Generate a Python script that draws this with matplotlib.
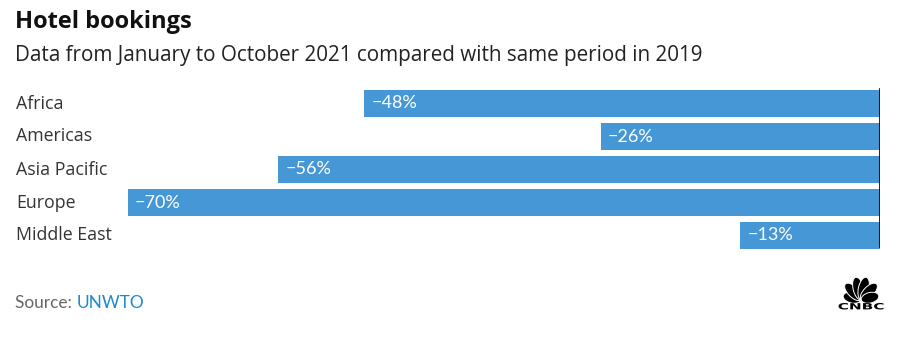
import matplotlib
matplotlib.use("Agg")
import matplotlib.pyplot as plt
import matplotlib.transforms as mtrans
from matplotlib.patches import Ellipse, PathPatch
from matplotlib.textpath import TextPath
from matplotlib.font_manager import FontProperties
import numpy as np

categories = ["Africa", "Americas", "Asia Pacific", "Europe", "Middle East"]
values = [-48, -26, -56, -70, -13]

W, H = 909, 345
fig = plt.figure(figsize=(W / 100, H / 100), dpi=100)
fig.patch.set_facecolor("white")
plt.rcParams["font.family"] = ["Open Sans", "DejaVu Sans"]

def fx(px):
    return px / W

def fy(py):
    return 1 - py / H

bar_color = "#4597d6"
ax = fig.add_axes([fx(128), fy(252), fx(880) - fx(128), (252 - 87) / H])
y = np.arange(len(categories))
ax.barh(y, values, height=0.8, color=bar_color)
ax.set_xlim(-70, 0)
ax.set_ylim(len(categories) - 0.5, -0.5)
ax.axis("off")
ax.axvline(0, ymin=0.03, ymax=0.99, color="black", lw=1.2)

off = mtrans.ScaledTranslation(7 / 100, 0, fig.dpi_scale_trans)
for i, v in enumerate(values):
    ax.text(v, i, f"\u2212{abs(v)}%", color="white", fontsize=13,
            va="center", ha="left", family=["Lato", "DejaVu Sans"],
            transform=ax.transData + off)

for i, c in enumerate(categories):
    ypix = 103.5 + 33 * i
    fig.text(fx(16), fy(ypix), c, fontsize=12.8, color="#333333", va="center", ha="left")

fig.text(fx(15), fy(22), "Hotel bookings", fontsize=17, fontweight="bold",
         color="#111111", va="center", ha="left")
fig.text(fx(15), fy(55), "Data from January to October 2021 compared with same period in 2019",
         fontsize=14.9, color="#222222", va="center", ha="left")

t1 = fig.text(fx(15), fy(303), "Source: ", fontsize=12.4, color="#666666", va="center", ha="left",
              family=["Lato", "DejaVu Sans"])
fig.canvas.draw()
bb = t1.get_window_extent()
fig.text(bb.x1 / W, fy(303), "UNWTO", fontsize=12.4, color="#1a8ad4", va="center", ha="left",
         family=["Lato", "DejaVu Sans"])

# CNBC peacock logo
lx0, lx1, ly0, ly1 = 836, 886, 276, 312
lax = fig.add_axes([fx(lx0), fy(ly1), fx(lx1 - lx0), (ly1 - ly0) / H])
lax.set_xlim(0, lx1 - lx0)
lax.set_ylim(0, ly1 - ly0)
lax.axis("off")
cx, cy = 25, 12
angles = [166, 134, 103, 77, 46, 14]
lengths = [18, 22, 23, 23, 22, 18]
for a, L in zip(angles, lengths):
    r = np.deg2rad(a)
    ex = cx + np.cos(r) * (L / 2 + 0.3)
    ey = cy + np.sin(r) * (L / 2 + 0.3)
    lax.add_patch(Ellipse((ex, ey), L, 10.5, angle=a, facecolor="black",
                          edgecolor="white", lw=0.7))
tp = TextPath((0, 0), "CNBC", size=10, prop=FontProperties(family="DejaVu Sans", weight="bold"))
ext = tp.get_extents()
tr = (mtrans.Affine2D().translate(-ext.x0, -ext.y0)
      .scale(45 / ext.width, 6.5 / ext.height).translate(2.5, 2.5))
lax.add_patch(PathPatch(tr.transform_path(tp), facecolor="black", edgecolor="none"))

fig.savefig("out.png", dpi=100, facecolor="white")
